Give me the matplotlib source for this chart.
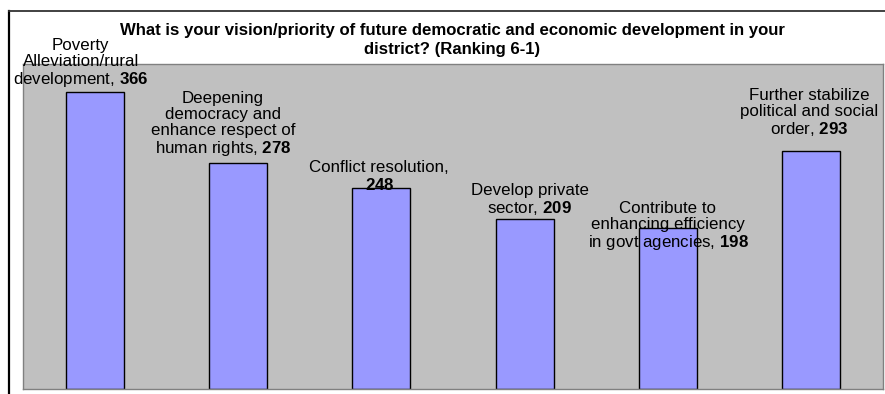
import matplotlib
matplotlib.use('Agg')
import matplotlib.pyplot as plt
import numpy as np
from matplotlib.lines import Line2D

# survey results, ranking 6-1
categories = ['Poverty\nAlleviation/rural\ndevelopment,',
              'Deepening\ndemocracy and\nenhance respect of\nhuman rights,',
              'Conflict resolution,\n',
              'Develop private\nsector,',
              'Contribute to\nenhancing efficiency\nin govt agencies,',
              'Further stabilize\npolitical and social\norder,']
scores = [366, 278, 248, 209, 198, 293]

title = ('What is your vision/priority of future democratic and economic development in your\n'
         'district? (Ranking 6-1)')

plt.rcParams['font.family'] = ['Liberation Sans', 'DejaVu Sans']
plt.rcParams['mathtext.fontset'] = 'custom'
plt.rcParams['mathtext.rm'] = 'Liberation Sans'
plt.rcParams['mathtext.bf'] = 'Liberation Sans:bold'

fig = plt.figure(figsize=(8.85, 3.94), dpi=100)
ax = fig.add_axes([23/885, 5/394, 860/885, 325/394])

x = np.arange(len(scores))
ax.bar(x, scores, width=0.405, color='#9999FF', edgecolor='black', lw=1, zorder=2)

ax.set_xlim(-0.5, len(scores)-0.5)
ax.set_ylim(0, 400)
ax.set_facecolor('#C0C0C0')
ax.set_xticks([])
ax.set_yticks([])
for s in ax.spines.values():
    s.set_color('#808080')
    s.set_linewidth(1)

# label offsets (pixels) from bar top, hand placed like the original sheet
dx = [-14, -15, -2, 5, 0, -2]
dy = [3, 5, -5, 2, -24, 13]
for i in range(len(scores)):
    if categories[i].endswith('\n'):
        txt = categories[i] + r'$\mathbf{%d}$' % scores[i]
    else:
        txt = categories[i] + r' $\mathbf{%d}$' % scores[i]
    ax.annotate(txt, (x[i], scores[i]), xytext=(dx[i]*0.72, dy[i]*0.72),
                textcoords='offset points', ha='center', va='bottom',
                fontsize=12.2, linespacing=1.08, color='black', zorder=3)

fig.text(452/885, 1 - 40/394, title, ha='center', va='center',
         fontsize=12.05, fontweight='bold', linespacing=1.35)

# outer chart frame, cut off at the right and bottom
fig.add_artist(Line2D([9/885, 9/885], [0, 1 - 11/394], color='black', lw=1.6,
                      transform=fig.transFigure))
fig.add_artist(Line2D([9/885, 1], [1 - 11/394, 1 - 11/394], color='#333333', lw=1.3,
                      transform=fig.transFigure))

fig.savefig('out.png', dpi=100)
